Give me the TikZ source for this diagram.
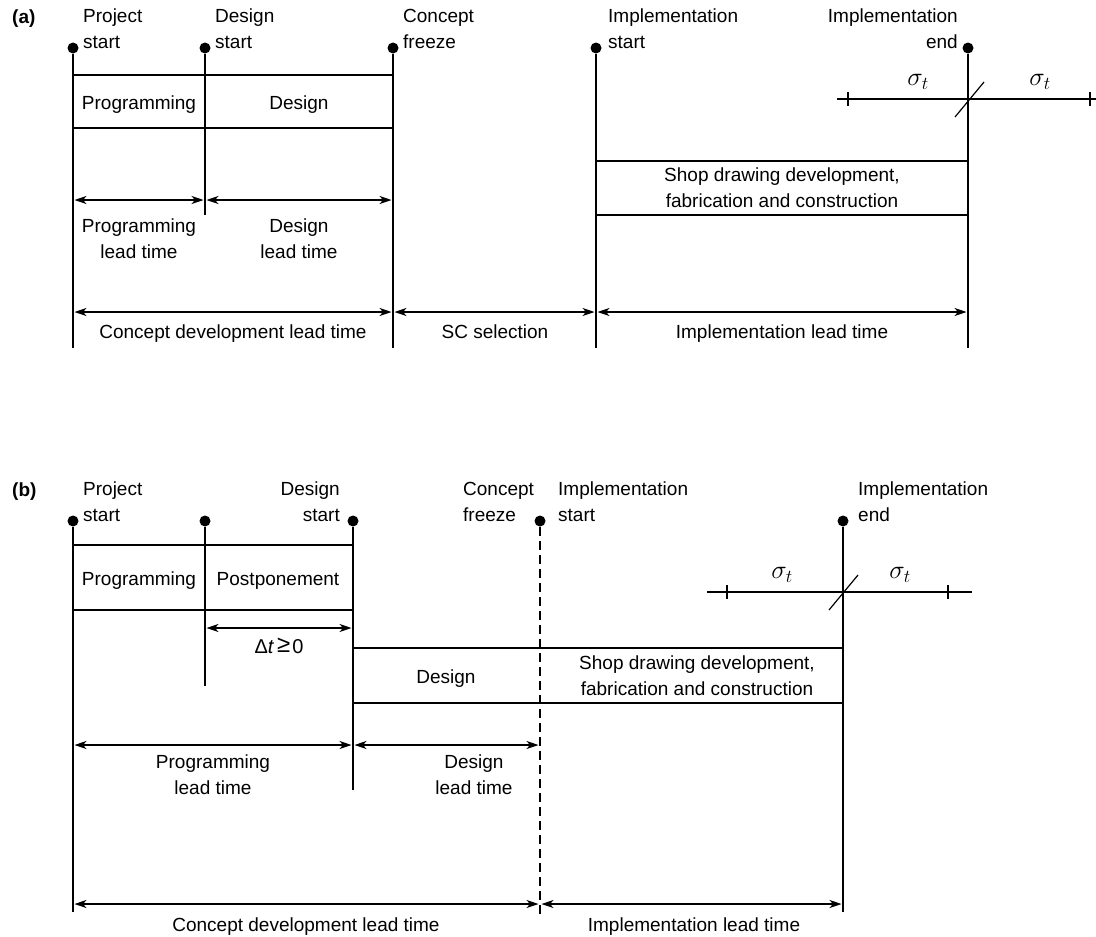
\RequirePackage{fix-cm}
\documentclass[tikz,border=0pt]{standalone}
\usepackage{fontspec}
\setmainfont{Liberation Sans}
\usetikzlibrary{arrows.meta,positioning}
\begin{document}
\begin{tikzpicture}[x=1pt, y=-1pt, font=\fontsize{19}{26}\selectfont,
    dot/.style = {circle, fill, inner sep=0pt, minimum size=11pt},
    bar/.style = {line width=2pt},
    thin bar/.style = {line width=1.2pt},
    dim/.style = {line width=1.2pt, {Stealth[length=12pt,width=8pt,inset=3.5pt]}-{Stealth[length=12pt,width=8pt,inset=3.5pt]}, shorten <=1.5pt, shorten >=1.5pt},
    lbl/.style = {inner sep=0pt, align=left, anchor=north west},
    txt/.style = {inner sep=0pt, anchor=base},
    two/.style = {inner sep=0pt, align=center},
    sig/.style = {font=\fontsize{26}{30}\selectfont}]
\useasboundingbox (0,0) rectangle (1096,937);

\node[font=\fontsize{19}{26}\selectfont\bfseries, anchor=west, inner sep=0pt] (pa) at (12,19) {(a)};
\foreach \i/\x/\e in {1/73/348, 2/205/215, 3/393/348, 4/596/348, 5/968/348} {
    \node[dot] (a\i) at (\x,48) {};
    \coordinate (a\i e) at (\x,\e);
    \draw[bar] (a\i) -- (a\i e);
    \coordinate (da\i) at (\x,200);
    \coordinate (ea\i) at (\x,312);
}
\node[lbl] (ta1) at (83,9) {Project\\start};
\node[lbl] (ta2) at (215,9) {Design\\start};
\node[lbl] (ta3) at (403,9) {Concept\\freeze};
\node[lbl] (ta4) at (608,9) {Implementation\\start};
\node[lbl, align=right, anchor=north east] (ta5) at (958,9) {Implementation\\end};

\draw[bar] (73,75) -- (393,75);
\draw[bar] (73,128) -- (393,128);
\node[txt] (pga) at (139,109) {Programming};
\node[txt] (dsa) at (299,109) {Design};

\draw[bar] (596,161) -- (968,161);
\draw[bar] (596,215) -- (968,215);
\node[two] (sha) at (782,188) {Shop drawing development,\\fabrication and construction};

\draw[dim] (da1) -- (da2);
\draw[dim] (da2) -- (da3);
\node[two, anchor=north] (lpa) at (139,219) {Programming\\lead time};
\node[two, anchor=north] (lda) at (299,219) {Design\\lead time};

\draw[dim] (ea1) -- (ea3);
\draw[dim] (ea3) -- (ea4);
\draw[dim] (ea4) -- (ea5);
\node[txt] (cda) at (233,338) {Concept development lead time};
\node[txt] (sca) at (495,338) {SC selection};
\node[txt] (ila) at (782,338) {Implementation lead time};

\coordinate (sa0) at (837,99);
\coordinate (sa1) at (1096,99);
\draw[line width=2.2pt] (sa0) -- (sa1);
\draw[thin bar] (848,92) -- (848,106);
\draw[thin bar] (1090,92) -- (1090,106);
\draw[thin bar] (955,117) -- (984,82);
\node[sig] (sga1) at (918,82) {$\sigma_t$};
\node[sig] (sga2) at (1040,82) {$\sigma_t$};

\node[font=\fontsize{19}{26}\selectfont\bfseries, anchor=west, inner sep=0pt] (pb) at (12,492) {(b)};
\foreach \i/\x/\e in {1/73/912, 2/205/686, 3/353/790, 4/540/915, 5/843/912} {
    \node[dot] (b\i) at (\x,521) {};
    \coordinate (b\i e) at (\x,\e);
    \coordinate (db\i) at (\x,745);
    \coordinate (eb\i) at (\x,904);
}
\coordinate (fb2) at (205,628);
\coordinate (fb3) at (353,628);
\draw[bar] (b1) -- (b1e);
\draw[bar] (b2) -- (b2e);
\draw[bar] (b3) -- (b3e);
\draw[line width=1.5pt, dash pattern=on 9pt off 5pt] (b4) -- (b4e);
\draw[bar] (b5) -- (b5e);
\node[lbl] (tb1) at (83,482) {Project\\start};
\node[lbl, align=right, anchor=north east] (tb3) at (340,482) {Design\\start};
\node[lbl] (tb4) at (463,482) {Concept\\freeze};
\node[lbl] (tb5) at (558,482) {Implementation\\start};
\node[lbl] (tb6) at (858,482) {Implementation\\end};

\draw[bar] (73,545) -- (353,545);
\draw[bar] (73,610) -- (353,610);
\node[txt] (pgb) at (139,585) {Programming};
\node[txt] (ppb) at (278,585) {Postponement};
\draw[dim] (fb2) -- (fb3);
\node[txt, font=\fontsize{20}{26}\selectfont] (dtb) at (279,653) {Δ\textit{t}\hspace{3pt}\raisebox{1pt}{\fontsize{24}{24}\selectfont ≥}\hspace{2pt}0};

\draw[bar] (353,648) -- (843,648);
\draw[bar] (353,703) -- (843,703);
\node[txt] (dsb) at (446,683) {Design};
\node[two] (shb) at (697,676) {Shop drawing development,\\fabrication and construction};

\coordinate (sb0) at (707,592);
\coordinate (sb1) at (972,592);
\draw[line width=2.2pt] (sb0) -- (sb1);
\draw[thin bar] (727,585) -- (727,599);
\draw[thin bar] (948,585) -- (948,599);
\draw[thin bar] (829,610) -- (858,575);
\node[sig] (sgb1) at (782,575) {$\sigma_t$};
\node[sig] (sgb2) at (900,575) {$\sigma_t$};

\draw[dim] (db1) -- (db3);
\draw[dim] (db3) -- (db4);
\node[two, anchor=north] (lpb) at (213,755) {Programming\\lead time};
\node[two, anchor=north] (ldb) at (474,755) {Design\\lead time};

\draw[dim] (eb1) -- (eb4);
\draw[dim] (eb4) -- (eb5);
\node[txt] (cdb) at (306,931) {Concept development lead time};
\node[txt] (ilb) at (694,931) {Implementation lead time};
\end{tikzpicture}
\end{document}
